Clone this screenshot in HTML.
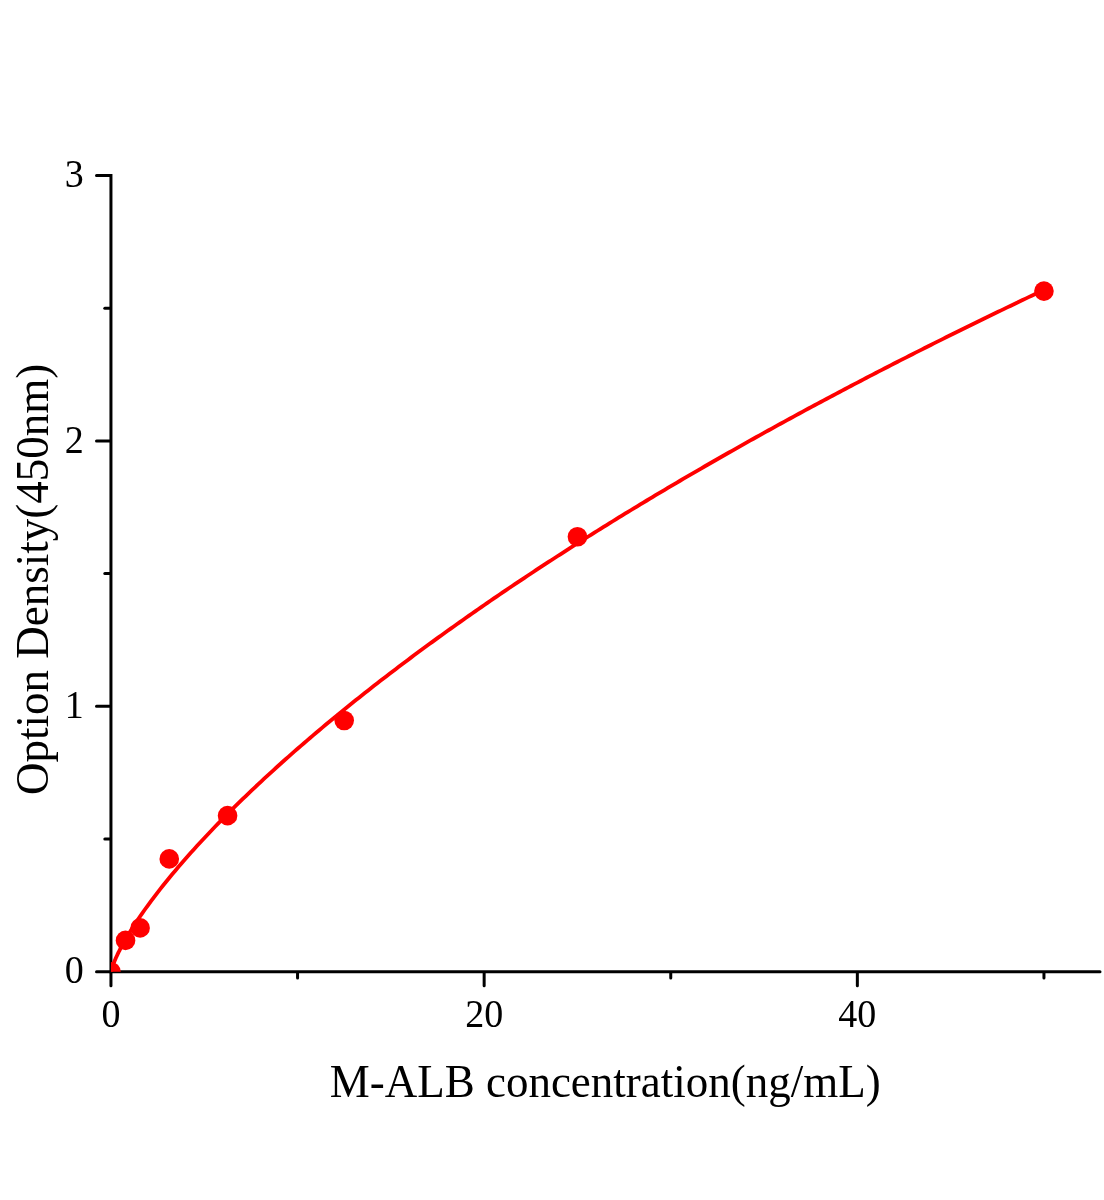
<!DOCTYPE html>
<html><head><meta charset="utf-8"><style>
html,body{margin:0;padding:0;background:#fff;width:1104px;height:1200px;overflow:hidden}
svg{display:block;will-change:transform}
text{font-family:"Liberation Serif",serif;fill:#000}
</style></head><body>
<svg width="1104" height="1200" viewBox="0 0 1104 1200">
<defs><clipPath id="pa"><rect x="110.95" y="100" width="1000" height="871.7"/></clipPath></defs>
<rect width="1104" height="1200" fill="#fff"/>
<g stroke="#000" stroke-width="3" stroke-linecap="round" fill="none">
<path d="M96.5 175.50 H110.95 V971.7 H1100" stroke-linejoin="miter"/>
<line x1="96.5" y1="971.70" x2="109.95" y2="971.70"/>
<line x1="96.5" y1="706.30" x2="109.95" y2="706.30"/>
<line x1="96.5" y1="440.90" x2="109.95" y2="440.90"/>
<line x1="104.8" y1="839.00" x2="109.95" y2="839.00"/>
<line x1="104.8" y1="573.60" x2="109.95" y2="573.60"/>
<line x1="104.8" y1="308.20" x2="109.95" y2="308.20"/>
<line x1="110.95" y1="972.7" x2="110.95" y2="985.8"/>
<line x1="484.15" y1="972.7" x2="484.15" y2="985.8"/>
<line x1="857.35" y1="972.7" x2="857.35" y2="985.8"/>
<line x1="297.55" y1="972.7" x2="297.55" y2="978"/>
<line x1="670.75" y1="972.7" x2="670.75" y2="978"/>
<line x1="1043.95" y1="972.7" x2="1043.95" y2="978"/>
</g>
<g clip-path="url(#pa)">
<polyline points="110.95,971.70 111.43,970.07 111.91,968.37 112.39,966.86 112.86,965.47 113.34,964.16 113.82,962.91 114.30,961.71 114.78,960.55 115.26,959.42 115.73,958.33 116.21,957.25 116.69,956.21 117.17,955.18 117.65,954.17 118.13,953.18 118.61,952.20 119.08,951.24 119.56,950.29 120.04,949.36 120.52,948.44 121.00,947.52 121.48,946.62 121.95,945.73 122.43,944.85 122.91,943.98 123.39,943.11 123.87,942.25 124.35,941.40 124.83,940.56 125.30,939.73 125.78,938.90 126.26,938.08 126.74,937.26 127.22,936.45 127.70,935.65 128.17,934.85 128.65,934.06 129.13,933.27 129.61,932.49 132.67,927.61 135.73,922.89 138.78,918.32 141.84,913.87 144.90,909.53 147.96,905.30 151.02,901.15 154.07,897.08 157.13,893.09 160.19,889.16 163.25,885.30 166.31,881.50 169.36,877.76 172.42,874.06 175.48,870.42 178.54,866.82 181.60,863.26 184.65,859.75 187.71,856.28 190.77,852.84 193.83,849.44 196.89,846.08 199.94,842.75 203.00,839.45 206.06,836.18 209.12,832.94 212.18,829.73 215.23,826.54 218.29,823.38 221.35,820.25 224.41,817.14 227.47,814.06 230.52,811.00 233.58,807.96 236.64,804.95 239.70,801.96 242.76,798.98 245.81,796.03 248.87,793.10 251.93,790.18 254.99,787.29 258.05,784.41 261.10,781.55 264.16,778.71 267.22,775.89 270.28,773.08 273.34,770.29 276.39,767.52 279.45,764.76 282.51,762.01 285.57,759.28 288.63,756.57 291.68,753.87 294.74,751.18 297.80,748.51 300.86,745.85 303.92,743.21 306.97,740.58 310.03,737.96 313.09,735.35 316.15,732.76 319.21,730.18 322.26,727.61 325.32,725.05 328.38,722.51 331.44,719.97 334.50,717.45 337.55,714.94 340.61,712.44 343.67,709.95 346.73,707.47 349.79,705.00 352.84,702.54 355.90,700.09 358.96,697.66 362.02,695.23 365.08,692.81 368.13,690.40 371.19,688.00 374.25,685.61 377.31,683.23 380.37,680.86 383.42,678.50 386.48,676.14 389.54,673.80 392.60,671.46 395.66,669.14 398.71,666.82 401.77,664.51 404.83,662.21 407.89,659.91 410.95,657.63 414.00,655.35 417.06,653.08 420.12,650.82 423.18,648.56 426.24,646.32 429.29,644.08 432.35,641.85 435.41,639.62 438.47,637.41 441.53,635.20 444.58,632.99 447.64,630.80 450.70,628.61 453.76,626.43 456.82,624.26 459.87,622.09 462.93,619.93 465.99,617.78 469.05,615.63 472.11,613.49 475.16,611.35 478.22,609.23 481.28,607.11 484.34,604.99 487.40,602.88 490.45,600.78 493.51,598.68 496.57,596.59 499.63,594.51 502.69,592.43 505.74,590.36 508.80,588.29 511.86,586.23 514.92,584.18 517.98,582.13 521.03,580.09 524.09,578.05 527.15,576.02 530.21,573.99 533.27,571.97 536.32,569.96 539.38,567.95 542.44,565.95 545.50,563.95 548.56,561.95 551.61,559.97 554.67,557.98 557.73,556.00 560.79,554.03 563.85,552.06 566.90,550.10 569.96,548.14 573.02,546.19 576.08,544.24 579.14,542.30 582.19,540.36 585.25,538.43 588.31,536.50 591.37,534.58 594.42,532.66 597.48,530.75 600.54,528.84 603.60,526.94 606.66,525.04 609.71,523.14 612.77,521.25 615.83,519.36 618.89,517.48 621.95,515.61 625.00,513.73 628.06,511.86 631.12,510.00 634.18,508.14 637.24,506.29 640.29,504.43 643.35,502.59 646.41,500.75 649.47,498.91 652.53,497.07 655.58,495.24 658.64,493.42 661.70,491.60 664.76,489.78 667.82,487.96 670.87,486.16 673.93,484.35 676.99,482.55 680.05,480.75 683.11,478.96 686.16,477.17 689.22,475.38 692.28,473.60 695.34,471.82 698.40,470.05 701.45,468.28 704.51,466.51 707.57,464.75 710.63,462.99 713.69,461.23 716.74,459.48 719.80,457.73 722.86,455.99 725.92,454.25 728.98,452.51 732.03,450.78 735.09,449.05 738.15,447.32 741.21,445.60 744.27,443.88 747.32,442.16 750.38,440.45 753.44,438.74 756.50,437.03 759.56,435.33 762.61,433.63 765.67,431.94 768.73,430.24 771.79,428.55 774.85,426.87 777.90,425.19 780.96,423.51 784.02,421.83 787.08,420.16 790.14,418.49 793.19,416.82 796.25,415.16 799.31,413.50 802.37,411.85 805.43,410.19 808.48,408.54 811.54,406.90 814.60,405.25 817.66,403.61 820.72,401.97 823.77,400.34 826.83,398.71 829.89,397.08 832.95,395.45 836.01,393.83 839.06,392.21 842.12,390.60 845.18,388.98 848.24,387.37 851.30,385.76 854.35,384.16 857.41,382.56 860.47,380.96 863.53,379.36 866.59,377.77 869.64,376.18 872.70,374.59 875.76,373.01 878.82,371.43 881.88,369.85 884.93,368.27 887.99,366.70 891.05,365.13 894.11,363.56 897.17,361.99 900.22,360.43 903.28,358.87 906.34,357.32 909.40,355.76 912.46,354.21 915.51,352.66 918.57,351.12 921.63,349.57 924.69,348.03 927.75,346.49 930.80,344.96 933.86,343.42 936.92,341.89 939.98,340.37 943.04,338.84 946.09,337.32 949.15,335.80 952.21,334.28 955.27,332.77 958.33,331.25 961.38,329.74 964.44,328.24 967.50,326.73 970.56,325.23 973.62,323.73 976.67,322.23 979.73,320.73 982.79,319.24 985.85,317.75 988.91,316.26 991.96,314.78 995.02,313.30 998.08,311.81 1001.14,310.34 1004.20,308.86 1007.25,307.39 1010.31,305.92 1013.37,304.45 1016.43,302.98 1019.49,301.52 1022.54,300.05 1025.60,298.59 1028.66,297.14 1031.72,295.68 1034.78,294.23 1037.83,292.78 1040.89,291.33 1043.95,289.89" fill="none" stroke="#f00" stroke-width="3.8" stroke-linejoin="round"/>
<g fill="#f00">
<circle cx="110.95" cy="971.70" r="9.8"/>
<circle cx="125.53" cy="940.38" r="9.8"/>
<circle cx="140.11" cy="927.91" r="9.8"/>
<circle cx="169.26" cy="858.91" r="9.8"/>
<circle cx="227.57" cy="815.64" r="9.8"/>
<circle cx="344.20" cy="720.50" r="9.8"/>
<circle cx="577.45" cy="536.71" r="9.8"/>
<circle cx="1043.95" cy="291.08" r="9.8"/>
</g>
</g>
<g font-size="38">
<text transform="translate(83.7,983.30) scale(1,1.03)" text-anchor="end">0</text>
<text transform="translate(83.7,717.90) scale(1,1.03)" text-anchor="end">1</text>
<text transform="translate(83.7,452.50) scale(1,1.03)" text-anchor="end">2</text>
<text transform="translate(83.7,187.10) scale(1,1.03)" text-anchor="end">3</text>
<text transform="translate(110.95,1027.4) scale(1,1.03)" text-anchor="middle">0</text>
<text transform="translate(484.15,1027.4) scale(1,1.03)" text-anchor="middle">20</text>
<text transform="translate(857.35,1027.4) scale(1,1.03)" text-anchor="middle">40</text>
</g>
<text transform="translate(605.2,1096.8) scale(1,1.045)" font-size="45" text-anchor="middle">M-ALB concentration(ng/mL)</text>
<text transform="translate(47.6,579.4) rotate(-90) scale(1,1.045)" font-size="45" text-anchor="middle">Option Density(450nm)</text>
</svg>
</body></html>
